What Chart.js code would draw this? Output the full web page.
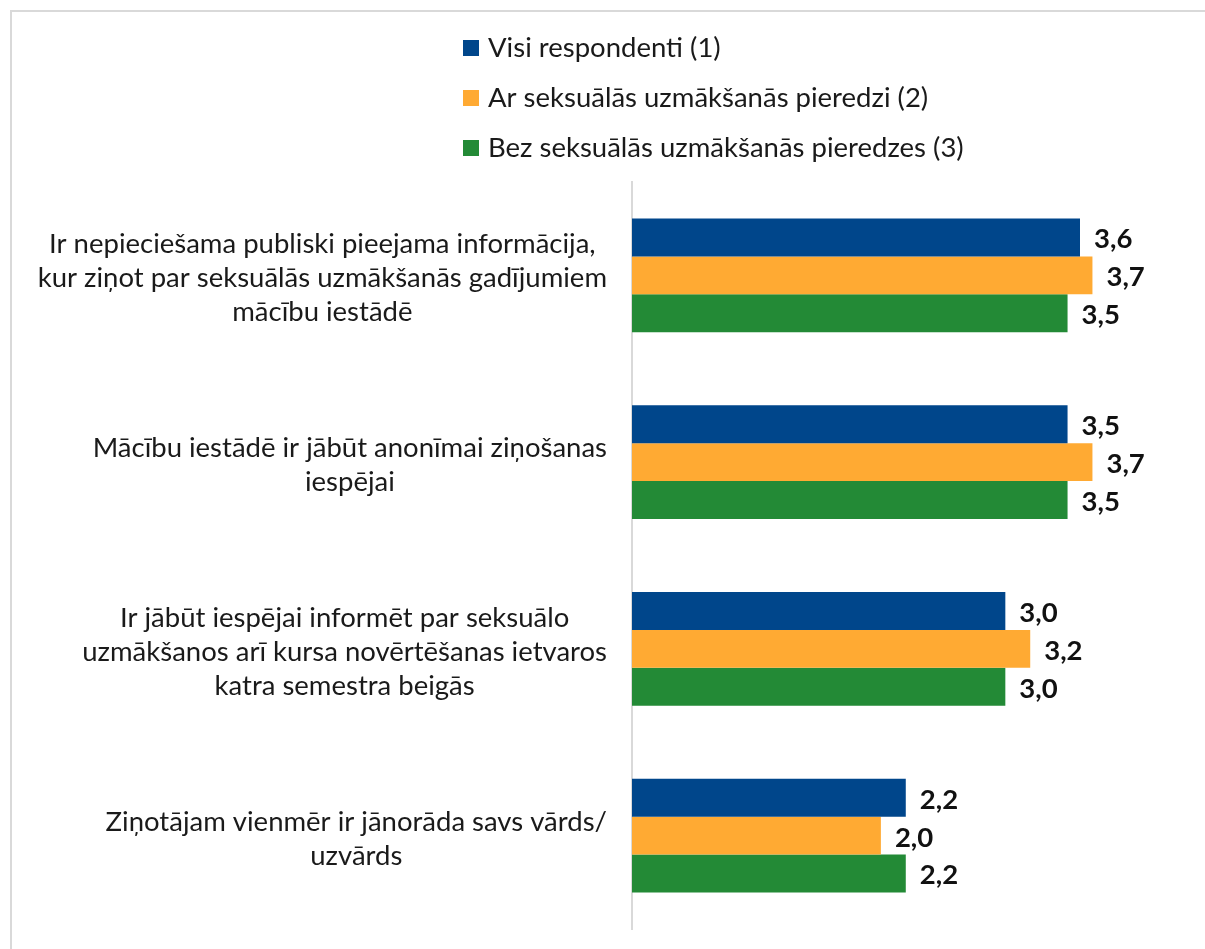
<!DOCTYPE html>
<html>
<head>
<meta charset="utf-8">
<script src="https://cdn.jsdelivr.net/npm/chart.js@4.4.0/dist/chart.umd.min.js"></script>
<style>
  body { margin: 0; background: #fff; }
  canvas { display: block; }
</style>
</head>
<body>
<canvas id="canvas1" width="1205" height="949"></canvas>
<script>
// categories (multi-line labels) and series
let categories = [
  ['Ir nepieciešama publiski pieejama informācija,', 'kur ziņot par seksuālās uzmākšanās gadījumiem', 'mācību iestādē'],
  ['Mācību iestādē ir jābūt anonīmai ziņošanas', 'iespējai'],
  ['Ir jābūt iespējai informēt par seksuālo', 'uzmākšanos arī kursa novērtēšanas ietvaros', 'katra semestra beigās'],
  ['Ziņotājam vienmēr ir jānorāda savs vārds/', 'uzvārds']
];
let seriesNames = ['Visi respondenti (1)', 'Ar seksuālās uzmākšanās pieredzi (2)', 'Bez seksuālās uzmākšanās pieredzes (3)'];
let visi = [3.6, 3.5, 3.0, 2.2];
let arPieredzi = [3.7, 3.7, 3.2, 2.0];
let bezPieredzes = [3.5, 3.5, 3.0, 2.2];
let colors = ['#00468b', '#ffaa33', '#238a36'];

let FONT = 'Lato, "Open Sans", sans-serif';
let TEXT_SIZE = 27.5;

function fmt(v) {
  return v.toFixed(1).replace('.', ',');
}

// frame lines (top and left)
let framePlugin = {
  id: 'frame',
  beforeDraw(chart) {
    let ctx = chart.ctx;
    ctx.save();
    ctx.fillStyle = '#fff';
    ctx.fillRect(0, 0, chart.width, chart.height);
    ctx.strokeStyle = '#d9d9d9';
    ctx.lineWidth = 2;
    ctx.beginPath();
    ctx.moveTo(11, chart.height);
    ctx.lineTo(11, 11);
    ctx.lineTo(chart.width, 11);
    ctx.stroke();
    ctx.restore();
  }
};

// vertical legend, left aligned
let legendPlugin = {
  id: 'vlegend',
  afterDraw(chart) {
    let ctx = chart.ctx;
    ctx.save();
    ctx.font = TEXT_SIZE + 'px ' + FONT;
    ctx.textBaseline = 'middle';
    ctx.textAlign = 'left';
    chart.data.datasets.forEach(function(ds, i) {
      let y = 48 + i * 50;
      ctx.fillStyle = ds.backgroundColor;
      ctx.fillRect(463, y - 8, 16, 16);
      ctx.fillStyle = '#1a1a1a';
      ctx.fillText(ds.label, 488, y);
    });
    ctx.restore();
  }
};

// category labels: block right aligned, lines centered inside the block
let catLabelPlugin = {
  id: 'catLabels',
  afterDraw(chart) {
    let ctx = chart.ctx;
    let yScale = chart.scales.y;
    let right = 607;
    let lineH = 34;
    ctx.save();
    ctx.font = TEXT_SIZE + 'px ' + FONT;
    ctx.fillStyle = '#1a1a1a';
    ctx.textAlign = 'center';
    ctx.textBaseline = 'middle';
    chart.data.labels.forEach(function(lines, i) {
      let widest = Math.max.apply(null, lines.map(function(l) { return ctx.measureText(l).width; }));
      let cx = right - widest / 2;
      let cy = yScale.getPixelForValue(i) + 3;
      let top = cy - (lines.length - 1) * lineH / 2;
      lines.forEach(function(l, j) {
        ctx.fillText(l, cx, top + j * lineH);
      });
    });
    ctx.restore();
  }
};

// value labels at the end of each bar
let valuePlugin = {
  id: 'values',
  afterDatasetsDraw(chart) {
    let ctx = chart.ctx;
    ctx.save();
    ctx.font = 'bold ' + TEXT_SIZE + 'px ' + FONT;
    ctx.fillStyle = '#111';
    ctx.textAlign = 'left';
    ctx.textBaseline = 'middle';
    chart.data.datasets.forEach(function(ds, i) {
      chart.getDatasetMeta(i).data.forEach(function(bar, j) {
        ctx.fillText(fmt(ds.data[j]), bar.x + 14, bar.y + 2);
      });
    });
    ctx.restore();
  }
};

let myChart = document.getElementById('canvas1').getContext('2d');
let barChart = new Chart(myChart, {
  type: 'bar',
  data: {
    labels: categories,
    datasets: [
      { label: seriesNames[0], data: visi, backgroundColor: colors[0] },
      { label: seriesNames[1], data: arPieredzi, backgroundColor: colors[1] },
      { label: seriesNames[2], data: bezPieredzes, backgroundColor: colors[2] }
    ]
  },
  options: {
    indexAxis: 'y',
    responsive: false,
    animation: false,
    categoryPercentage: 0.61,
    barPercentage: 1,
    layout: { padding: { top: 182, bottom: 20, left: 0, right: 13 } },
    plugins: {
      legend: { display: false },
      tooltip: { enabled: false }
    },
    scales: {
      x: {
        display: false,
        min: 0,
        max: 4.5
      },
      y: {
        ticks: { display: false },
        grid: { display: false },
        border: { display: true, color: '#d9d9d9', width: 2 },
        afterFit: function(scale) { scale.width = 632; }
      }
    }
  },
  plugins: [framePlugin, legendPlugin, catLabelPlugin, valuePlugin]
});
</script>
</body>
</html>
